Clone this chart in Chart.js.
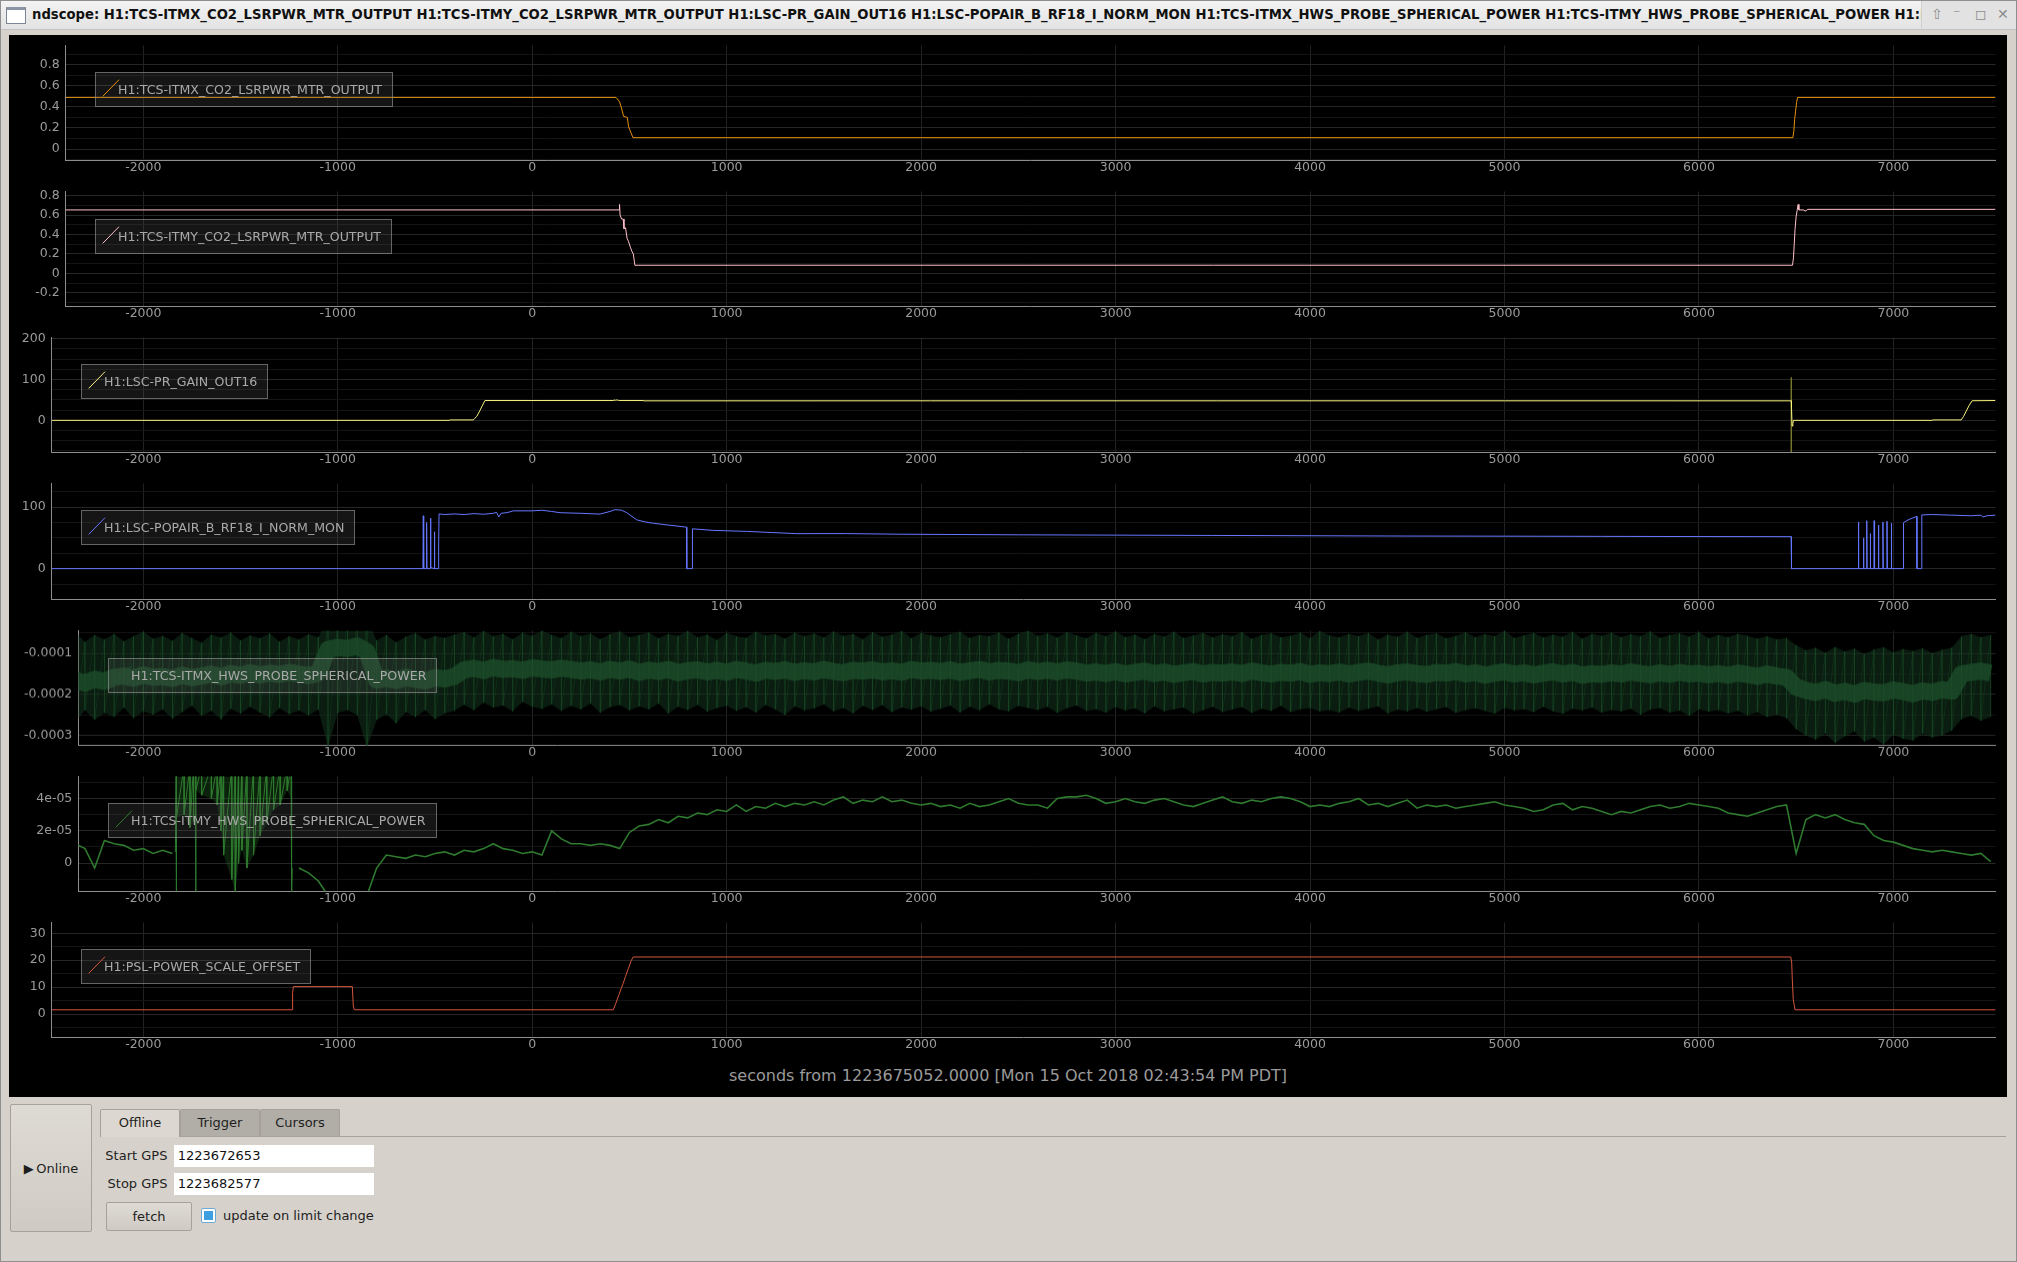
<!DOCTYPE html>
<html>
<head>
<meta charset="utf-8">
<title>ndscope</title>
<script src="https://cdn.jsdelivr.net/npm/chart.js@4.4.1/dist/chart.umd.min.js"></script>
<style>
  html, body { margin: 0; padding: 0; }
  body { width: 2017px; height: 1262px; position: relative; overflow: hidden; background: #d6d2cb; font-family: "DejaVu Sans", sans-serif; }
  .abs { position: absolute; }
  #frame { left: 0; top: 0; width: 2015px; height: 1260px; border: 1px solid #8f8f8f; }
  #titlebar { left: 1px; top: 1px; width: 2015px; height: 28px; background: linear-gradient(#f3f3f3, #e3e3e3); border-bottom: 1px solid #c2c2c2; }
  #winicon { left: 6px; top: 7px; width: 18px; height: 13px; background: #fff; border: 1px solid #7b8794; border-top: 3px solid #8995a2; }
  #wintitle { left: 32px; top: 5px; width: 1890px; overflow: hidden; white-space: nowrap; font-weight: bold; font-size: 13.2px; line-height: 20px; color: #111; }
  #winbtns { left: 1921px; top: 1px; width: 94px; height: 27px; background: #e2e2e2; border-left: 1px solid #cfcfcf; color: #8c8c8c; font-size: 14px; line-height: 27px; }
  #winbtns span { position: absolute; top: 0; }
  #scope { left: 9px; top: 35px; width: 1998px; height: 1062px; background: #000; }
  .plot { position: absolute; }
  .leg { position: absolute; height: 33px; line-height: 33px; padding: 0 10px 0 21.7px; background: rgba(96,96,96,0.22);
         border: 1px solid rgba(150,150,150,0.62); color: #a9a9a9; font-size: 12.6px; white-space: nowrap; }
  .leg svg { position: absolute; left: 0; top: 0; }
  #xlabel { left: 508px; top: 1066px; width: 1000px; text-align: center; font-size: 16px; line-height: 20px; color: #9b9b9b; }
  .btn { border: 1px solid #a6a29b; border-radius: 2px; background: linear-gradient(#dedad4, #cfcbc4); box-sizing: border-box;
         display: flex; align-items: center; justify-content: center; font-size: 13px; color: #1e1e1e; }
  .tab { box-sizing: border-box; border: 1px solid #a6a29b; border-bottom: none; border-radius: 2px 2px 0 0; text-align: center;
         font-size: 13px; line-height: 26px; color: #1e1e1e; }
  .lbl { font-size: 13px; color: #1e1e1e; line-height: 20px; text-align: right; }
  .inp { background: #fff; box-sizing: border-box; padding-left: 3.7px; font-size: 13px; line-height: 21.7px; color: #111; }
</style>
</head>
<body>
<div id="frame" class="abs"></div>
<div id="titlebar" class="abs"></div>
<div id="winicon" class="abs"></div>
<div id="wintitle" class="abs"></div>
<div id="winbtns" class="abs"><span style="left:9px">&#8679;</span><span style="left:31px">&#8315;</span><span style="left:53px">&#9723;</span><span style="left:75px">&#10005;</span></div>
<div id="scope" class="abs"></div>
<div id="xlabel" class="abs">seconds from 1223675052.0000 [Mon 15 Oct 2018 02:43:54 PM PDT]</div>

<div class="abs btn" style="left:10px;top:1104px;width:82px;height:128px;">&#9654;&#8201;Online</div>
<div class="abs tab" style="left:100px;top:1109px;width:80px;height:28px;background:#dcd8d1;">Offline</div>
<div class="abs tab" style="left:180px;top:1109px;width:80px;height:28px;background:#b1aea8;">Trigger</div>
<div class="abs tab" style="left:260px;top:1109px;width:80px;height:28px;background:#b1aea8;">Cursors</div>
<div class="abs" style="left:180px;top:1136px;width:1826px;height:1px;background:#a6a29b;"></div>
<div class="abs lbl" style="left:60px;top:1145.7px;width:107.4px;">Start GPS</div>
<div class="abs inp" style="left:174px;top:1145px;width:200px;height:21.7px;">1223672653</div>
<div class="abs lbl" style="left:60px;top:1174px;width:107.4px;">Stop GPS</div>
<div class="abs inp" style="left:174px;top:1173.3px;width:200px;height:21.7px;">1223682577</div>
<div class="abs btn" style="left:106px;top:1202px;width:86px;height:29px;">fetch</div>
<div class="abs" style="left:201px;top:1208px;width:15px;height:15px;box-sizing:border-box;border:1px solid #6fa9d6;border-radius:2px;background:#fff;">
  <div style="position:absolute;left:2px;top:2px;width:9px;height:9px;background:#3d9ee0;"></div>
</div>
<div class="abs" style="left:223px;top:1205.7px;font-size:13px;line-height:20px;color:#1e1e1e;">update on limit change</div>

<script>
// ---- channels, in plot order ----
const channels = [
  'H1:TCS-ITMX_CO2_LSRPWR_MTR_OUTPUT',
  'H1:TCS-ITMY_CO2_LSRPWR_MTR_OUTPUT',
  'H1:LSC-PR_GAIN_OUT16',
  'H1:LSC-POPAIR_B_RF18_I_NORM_MON',
  'H1:TCS-ITMX_HWS_PROBE_SPHERICAL_POWER',
  'H1:TCS-ITMY_HWS_PROBE_SPHERICAL_POWER',
  'H1:PSL-POWER_SCALE_OFFSET'
];
const channelColors = ['#e8900c', '#ffc0cb', '#f7f37c', '#6677ff', '#1d5530', '#2e7a2e', '#d4563c'];

// ---- time axis: seconds from 1223675052 ----
const X_START = -2399;   // Start GPS 1223672653
const X_END = 7525;      // Stop GPS 1223682577
const xTickValues = [-2000, -1000, 0, 1000, 2000, 3000, 4000, 5000, 6000, 7000];

// TCS-ITMX CO2 laser power (W)
const itmxCo2T = [-2399, 431, 449, 459, 470, 489, 496, 507, 518, 6483, 6488, 6492, 6497, 6502, 6507, 7525];
const itmxCo2V = [0.49, 0.49, 0.45, 0.39, 0.31, 0.30, 0.21, 0.16, 0.108, 0.108, 0.17, 0.28, 0.36, 0.44, 0.49, 0.49];

// TCS-ITMY CO2 laser power (W)
const itmyCo2T = [-2399, 447, 449, 452, 460, 468, 472, 480, 488, 495, 505, 512, 520, 528, 6481, 6486, 6490, 6494, 6500, 6506, 6510, 6514, 6540, 6545, 6560, 7525];
const itmyCo2V = [0.654, 0.654, 0.71, 0.6, 0.56, 0.56, 0.46, 0.47, 0.36, 0.33, 0.27, 0.23, 0.2, 0.084, 0.084, 0.16, 0.3, 0.45, 0.59, 0.66, 0.71, 0.654, 0.654, 0.64, 0.66, 0.66];

// LSC-PR_GAIN_OUT16
const prGainT = [-2471, -426, -425, -303, -295, -285, -270, -255, -243, 417, 420, 428, 436, 444, 452, 571, 572, 6475, 6476, 6479, 6483, 6486, 7200, 7201, 7348, 7360, 7375, 7390, 7405, 7525];
const prGainV = [0, 0, 1, 1, 5, 9.6, 23, 37.4, 48.5, 48.5, 50, 49, 50, 48.8, 48.5, 48.5, 47.8, 47.8, 30, -14, -8, 0, 0, 1, 1, 9, 23, 37, 48, 48.5];
const prGainSpikeT = [6475, 6475];
const prGainSpikeV = [105, -78];

// LSC-POPAIR_B_RF18_I_NORM_MON
const popairT = [-2471, -562, -560, -558, -545, -543, -541, -525, -523, -521,
  -505, -503, -501, -483, -481, -479, -450, -400, -350, -300,
  -250, -200, -183, -172, -160, -130, -97, 0, 49, 100,
  143, 250, 348, 400, 426, 460, 486, 537, 580, 623,
  708, 794, 795, 823, 824, 931, 1103, 1360, 1617, 1891,
  2500, 3000, 3500, 4000, 4500, 5000, 5500, 6000, 6474, 6476,
  6819, 6820, 6822, 6845, 6846, 6848, 6862, 6863, 6865, 6880,
  6881, 6883, 6900, 6901, 6903, 6922, 6923, 6925, 6945, 6946,
  6948, 6966, 6967, 6969, 6988, 6989, 6991, 7051, 7052, 7080,
  7120, 7121, 7145, 7146, 7200, 7300, 7400, 7450, 7460, 7480, 7525];
const popairV = [0, 0, 86, 0, 0, 75, 0, 0, 82, 2,
  0, 60, 0, 0, 40, 89, 88, 89, 88, 89.5,
  88.5, 90, 91.6, 84, 90, 91, 94, 94, 95, 93,
  91, 90, 88.7, 93, 96, 95, 91, 79.5, 76, 73.8,
  70.6, 67.5, 0, 0, 64.8, 62.2, 60.6, 56.9, 57, 56,
  55, 54.5, 54, 53.5, 53, 52.8, 52.5, 52.2, 52, 0,
  0, 76, 0, 0, 50, 0, 0, 78, 0, 0,
  57, 0, 0, 78, 0, 0, 71, 0, 0, 76,
  0, 0, 77, 0, 0, 74, 0, 0, 75, 80,
  85, 0, 0, 87.4, 88, 87, 86, 87, 84, 86, 87];

// HWS trend samples: first sample time and spacing (s)
const HWS_T0 = -2400;
const HWS_DT = 50;

// TCS-ITMX_HWS_PROBE_SPHERICAL_POWER trend, in units of 1e-6
const itmxHwsMean = [
  -170, -165, -172, -163, -168, -158, -155, -160, -152, -158,
  -156, -161, -153, -159, -155, -150, -157, -149, -153, -147,
  -152, -148, -151, -146, -150, -154, -148, -90, -85, -88,
  -82, -95, -165, -160, -166, -158, -163, -167, -159, -162,
  -156, -140, -136, -142, -134, -139, -137, -141, -135, -138,
  -140, -136, -139, -143, -140, -145, -139, -143, -138, -146,
  -141, -144, -139, -147, -142, -140, -145, -141, -146, -139,
  -143, -148, -141, -144, -140, -146, -142, -145, -139, -144,
  -147, -141, -143, -140, -145, -142, -146, -139, -143, -141,
  -144, -140, -146, -142, -139, -145, -141, -143, -147, -140,
  -144, -141, -145, -140, -143, -148, -145, -149, -144, -150,
  -146, -143, -149, -145, -151, -147, -144, -150, -146, -148,
  -145, -149, -143, -147, -150, -146, -148, -144, -151, -147,
  -149, -145, -150, -146, -143, -148, -152, -147, -145, -149,
  -151, -146, -148, -144, -150, -147, -153, -148, -145, -150,
  -147, -152, -148, -145, -150, -146, -153, -149, -151, -147,
  -150, -145, -149, -152, -147, -151, -146, -150, -148, -152,
  -149, -153, -148, -151, -156, -150, -155, -158, -182, -190,
  -195, -188, -197, -192, -199, -190, -194, -196, -189, -193,
  -198, -191, -195, -188, -192, -150, -146, -143, -148];
const itmxHwsMax = [
  -60, -48, -72, -55, -66, -52, -70, -58, -47, -64,
  -57, -69, -50, -62, -74, -54, -61, -49, -68, -56,
  -63, -51, -71, -58, -66, -53, -60, -15, -15, -15,
  -15, -15, -68, -55, -73, -59, -50, -66, -57, -62,
  -54, -48, -61, -45, -58, -52, -66, -49, -57, -44,
  -55, -62, -47, -58, -51, -65, -53, -46, -60, -55,
  -49, -63, -52, -57, -45, -60, -54, -67, -50, -58,
  -62, -47, -56, -53, -64, -49, -58, -51, -61, -46,
  -57, -52, -66, -48, -59, -54, -45, -63, -50, -56,
  -60, -53, -47, -62, -55, -58, -49, -64, -52, -44,
  -57, -51, -61, -48, -56, -63, -50, -58, -46, -60,
  -54, -65, -52, -59, -47, -62, -56, -50, -61, -53,
  -58, -48, -64, -55, -51, -60, -57, -49, -63, -45,
  -56, -61, -52, -58, -50, -66, -54, -59, -47, -62,
  -55, -51, -63, -57, -48, -60, -53, -58, -44, -62,
  -56, -50, -61, -54, -59, -47, -64, -52, -57, -49,
  -60, -53, -58, -46, -62, -55, -51, -59, -48, -63,
  -55, -60, -52, -57, -64, -58, -66, -62, -80, -92,
  -86, -98, -84, -95, -88, -102, -90, -85, -97, -89,
  -94, -87, -99, -91, -86, -58, -52, -60, -55];
const itmxHwsMin = [
  -250, -268, -238, -262, -245, -255, -232, -258, -241, -249,
  -236, -259, -243, -228, -252, -240, -261, -235, -247, -230,
  -244, -256, -233, -248, -239, -251, -237, -330, -245, -238,
  -250, -330, -262, -248, -270, -243, -255, -238, -260, -246,
  -240, -225, -238, -220, -232, -227, -241, -218, -230, -235,
  -224, -240, -228, -236, -222, -245, -231, -226, -239, -229,
  -236, -222, -247, -230, -238, -225, -242, -233, -228, -240,
  -231, -244, -226, -237, -250, -229, -239, -234, -224, -241,
  -233, -246, -228, -238, -226, -243, -232, -237, -229, -242,
  -235, -227, -244, -230, -239, -224, -236, -241, -228, -233,
  -238, -230, -245, -233, -227, -240, -236, -244, -231, -239,
  -234, -246, -229, -241, -236, -232, -247, -238, -230, -243,
  -237, -231, -245, -235, -240, -228, -243, -236, -233, -241,
  -238, -244, -232, -240, -235, -229, -246, -237, -241, -233,
  -242, -236, -231, -245, -238, -234, -240, -247, -233, -239,
  -236, -243, -230, -241, -247, -235, -239, -232, -244, -238,
  -241, -235, -249, -237, -233, -244, -239, -252, -236, -242,
  -238, -246, -240, -251, -243, -255, -249, -258, -285, -300,
  -310, -295, -318, -302, -290, -315, -305, -322, -298, -308,
  -312, -296, -305, -300, -288, -260, -252, -264, -255];

// TCS-ITMY_HWS_PROBE_SPHERICAL_POWER trend mean, in units of 1e-6 (null = off scale)
const itmyHwsMean = [
  13, 12, 9, -3, 14, 12, 11, 8, 9, 6,
  8, 6, null, null, null, null, null, null, null, null,
  null, null, null, null, -3, -6, -11, -20, null, null,
  null, -20, -3, 5, 4, 3, 5, 4, 6, 7,
  5, 8, 7, 9, 12, 9, 8, 6, 7, 5,
  20, 15, 12, 12, 11, 12, 11, 9, 19, 23,
  24, 27, 25, 29, 28, 31, 30, 33, 32, 36,
  32, 35, 34, 37, 35, 37, 36, 38, 36, 39,
  41, 37, 39, 38, 41, 38, 39, 37, 36, 37,
  35, 36, 34, 37, 35, 36, 38, 40, 37, 36,
  36, 34, 40, 41, 41, 42, 40, 37, 38, 40,
  38, 37, 39, 40, 38, 36, 35, 37, 39, 41,
  38, 37, 39, 38, 40, 41, 40, 38, 35, 36,
  35, 37, 38, 40, 36, 37, 35, 37, 39, 34,
  36, 35, 36, 34, 35, 36, 37, 38, 36, 35,
  34, 32, 33, 36, 37, 33, 35, 34, 32, 30,
  32, 31, 33, 35, 36, 34, 35, 37, 36, 35,
  34, 31, 30, 29, 31, 33, 35, 36, 6, 27,
  30, 28, 30, 27, 25, 24, 17, 14, 13, 11,
  9, 8, 7, 8, 7, 6, 5, 6, 1];
// ITMY HWS min/max envelope while the probe was unlocked (1e-6)
const itmyBandT = [-1835, -1831, -1829, -1790, -1760, -1742, -1740, -1731, -1729, -1700, -1650, -1620, -1600, -1587,
  -1545, -1527, -1510, -1493, -1467, -1433, -1399, -1365, -1330, -1296, -1260, -1240, -1236, -1234];
const itmyBandMax = [7, 60, 60, 60, 60, 60, 60, 60, 60, 60, 60, 60, 60, 60,
  60, 60, 60, 60, 60, 60, 60, 60, 60, 60, 60, 60, 60, -3];
const itmyBandMin = [7, -18, 28, 30, 22, 26, 55, -18, 45, 42, 40, 36, 20, 5,
  -10, -18, 0, 8, -3, 5, 17, 25, 33, 36, 45, 40, -18, -3];

// PSL-POWER_SCALE_OFFSET (W)
const pslT = [-2471, -1235, -1232, -1228, -925, -920, -915, 417, 430, 445, 460, 468, 480, 495, 510, 520, 6472, 6477, 6480, 6485, 6494, 7525];
const pslV = [1.6, 1.6, 8, 10.2, 10.2, 3, 1.6, 1.6, 4, 7, 10, 11.5, 14, 17, 20, 21.2, 21.2, 19, 13, 5.4, 1.6, 1.6];

// ---- layout (page pixels) ----
const CANVAS_LEFT = 9, CANVAS_W = 1998, AREA_RIGHT = 1995.5;
const PAD_TOP = 10, X_AXIS_H = 22;
const TICK_FONT = { family: 'DejaVu Sans', size: 12.5 };
const TICK_COLOR = '#9b9b9b', AXIS_COLOR = '#8e8e8e';
const GRID_MAJOR = '#262626', GRID_MINOR = '#141414';

const fmtDec = v => String(Math.round(v * 10) / 10);
const fmtInt = v => String(Math.round(v));
const fmtMicroDec = v => (v / 1e6).toFixed(4);
const fmtMicroExp = v => v === 0 ? '0' : (v / 1e6).toExponential(0).replace(/e-(\d)$/, 'e-0$1');

const PANELS = [
  { left: 65.7, top: 42.3,  bottom: 160.3,  yMin: -0.104, yMax: 0.983, major: 0.2, minor: 0.1, fmt: fmtDec },
  { left: 65.7, top: 188.3, bottom: 306.3,  yMin: -0.336, yMax: 0.844, major: 0.2, minor: 0.1, fmt: fmtDec },
  { left: 51.7, top: 334.3, bottom: 452.3,  yMin: -77.6,  yMax: 203,   major: 100, minor: 25,  fmt: fmtInt },
  { left: 51.7, top: 480.3, bottom: 599.3,  yMin: -49.4,  yMax: 138.5, major: 100, minor: 25,  fmt: fmtInt },
  { left: 78.3, top: 627.3, bottom: 745,    yMin: -324.5, yMax: -44.3, major: 100, minor: 50,  fmt: fmtMicroDec },
  { left: 78.3, top: 773,   bottom: 891.3,  yMin: -17.4,  yMax: 53.6,  major: 20,  minor: 10,  fmt: fmtMicroExp },
  { left: 51.7, top: 919.3, bottom: 1037.3, yMin: -8.5,   yMax: 34,    major: 10,  minor: 5,   fmt: fmtInt }
];
const LEGEND_POS = [[95.3, 72.3], [95.3, 218.7], [81.3, 364.3], [81.3, 510.3], [108.3, 657.7], [108.3, 803.3], [81.3, 949.3]];

const PX_PER_SEC = (AREA_RIGHT - PANELS[0].left) / (X_END - X_START);

Chart.defaults.font.family = 'DejaVu Sans';

function isMajor(v, major) {
  const r = v / major;
  return Math.abs(r - Math.round(r)) < 1e-6;
}

function pairs(ts, vs) {
  return ts.map((t, i) => ({ x: t, y: vs[i] }));
}

function trend(vs) {
  return vs.map((v, i) => ({ x: HWS_T0 + i * HWS_DT, y: v }));
}

// min/max "peak" trace: one vertical stroke per sample, like the scope draws it
function peaks(ts, hi, lo) {
  const out = [];
  ts.forEach((t, i) => { out.push({ x: t, y: hi[i] }, { x: t, y: lo[i] }); });
  return out;
}

function line(data, color, extra) {
  return Object.assign({
    data, borderColor: color, borderWidth: 1, pointRadius: 0,
    tension: 0, fill: false, clip: 0, spanGaps: false
  }, extra || {});
}

// grid/tick positions: every multiple of the minor step inside the range
function yTickList(p) {
  const out = [];
  const first = Math.ceil(p.yMin / p.minor - 1e-9);
  const last = Math.floor(p.yMax / p.minor + 1e-9);
  for (let i = first; i <= last; i++) out.push({ value: +(i * p.minor).toFixed(6) });
  return out;
}

function buildPlot(k, datasets) {
  const p = PANELS[k];
  const wrap = document.createElement('div');
  wrap.className = 'plot';
  wrap.style.left = CANVAS_LEFT + 'px';
  wrap.style.top = (p.top - PAD_TOP) + 'px';
  wrap.style.width = CANVAS_W + 'px';
  wrap.style.height = (p.bottom - p.top + PAD_TOP + X_AXIS_H) + 'px';
  const canvas = document.createElement('canvas');
  wrap.appendChild(canvas);
  document.body.appendChild(wrap);

  // x axes are linked by screen position, so a wider y axis shifts the start time
  const xMin = X_START - (PANELS[0].left - p.left) / PX_PER_SEC;

  return new Chart(canvas, {
    type: 'line',
    data: { datasets },
    options: {
      responsive: true,
      maintainAspectRatio: false,
      animation: false,
      events: [],
      layout: { padding: { left: 0, top: PAD_TOP, right: CANVAS_LEFT + CANVAS_W - AREA_RIGHT, bottom: 0 } },
      plugins: { legend: { display: false }, tooltip: { enabled: false } },
      scales: {
        x: {
          type: 'linear', min: xMin, max: X_END,
          afterFit: s => { s.height = X_AXIS_H; },
          afterBuildTicks: s => { s.ticks = xTickValues.map(v => ({ value: v })); },
          ticks: { autoSkip: false, maxRotation: 0, padding: 0,
                   color: TICK_COLOR, font: TICK_FONT, callback: v => String(v) },
          grid: { color: '#222222', drawTicks: false },
          border: { color: AXIS_COLOR, width: 1 }
        },
        y: {
          type: 'linear', min: p.yMin, max: p.yMax,
          afterFit: s => { s.width = p.left - CANVAS_LEFT; },
          afterBuildTicks: s => { s.ticks = yTickList(p); },
          ticks: { autoSkip: false, padding: 6, color: TICK_COLOR, font: TICK_FONT,
                   callback: v => isMajor(v, p.major) ? p.fmt(v) : '' },
          grid: { drawTicks: false,
                  color: c => (c.tick && isMajor(c.tick.value, p.major)) ? GRID_MAJOR : GRID_MINOR },
          border: { color: AXIS_COLOR, width: 1 }
        }
      }
    }
  });
}

const hwsTimes = itmxHwsMean.map((_, i) => HWS_T0 + i * HWS_DT);

buildPlot(0, [line(pairs(itmxCo2T, itmxCo2V), channelColors[0])]);
buildPlot(1, [line(pairs(itmyCo2T, itmyCo2V), channelColors[1])]);
buildPlot(2, [
  line(pairs(prGainT, prGainV), channelColors[2]),
  line(pairs(prGainSpikeT, prGainSpikeV), '#77772e')
]);
buildPlot(3, [line(pairs(popairT, popairV), channelColors[3])]);
buildPlot(4, [
  line(trend(itmxHwsMean), 'rgba(29,78,42,0.8)', { borderWidth: 17, borderJoinStyle: 'round' }),
  line(peaks(hwsTimes, itmxHwsMax, itmxHwsMin), 'rgba(34,96,52,0.26)'),
  line(trend(itmxHwsMax), 'rgba(0,0,0,0)', { fill: 3, backgroundColor: 'rgba(16,48,26,0.6)' }),
  line(trend(itmxHwsMin), 'rgba(0,0,0,0)')
]);
buildPlot(5, [
  line(trend(itmyHwsMean), channelColors[5], { borderWidth: 1.6 }),
  line(peaks(itmyBandT, itmyBandMax, itmyBandMin), '#2e7a2e'),
  line(pairs(itmyBandT, itmyBandMax), 'rgba(0,0,0,0)', { fill: 3, backgroundColor: 'rgba(40,110,40,0.3)' }),
  line(pairs(itmyBandT, itmyBandMin), 'rgba(0,0,0,0)')
]);
buildPlot(6, [line(pairs(pslT, pslV), channelColors[6])]);

// legends and window title
channels.forEach((name, k) => {
  const box = document.createElement('div');
  box.className = 'leg';
  box.style.left = LEGEND_POS[k][0] + 'px';
  box.style.top = LEGEND_POS[k][1] + 'px';
  box.innerHTML = `<svg width="30" height="33"><line x1="6.7" y1="23.4" x2="23" y2="6.7" stroke="${channelColors[k]}" stroke-width="1"/></svg><span>${name}</span>`;
  document.body.appendChild(box);
});
document.getElementById('wintitle').textContent = 'ndscope: ' + channels.join(' ');
</script>
</body>
</html>
